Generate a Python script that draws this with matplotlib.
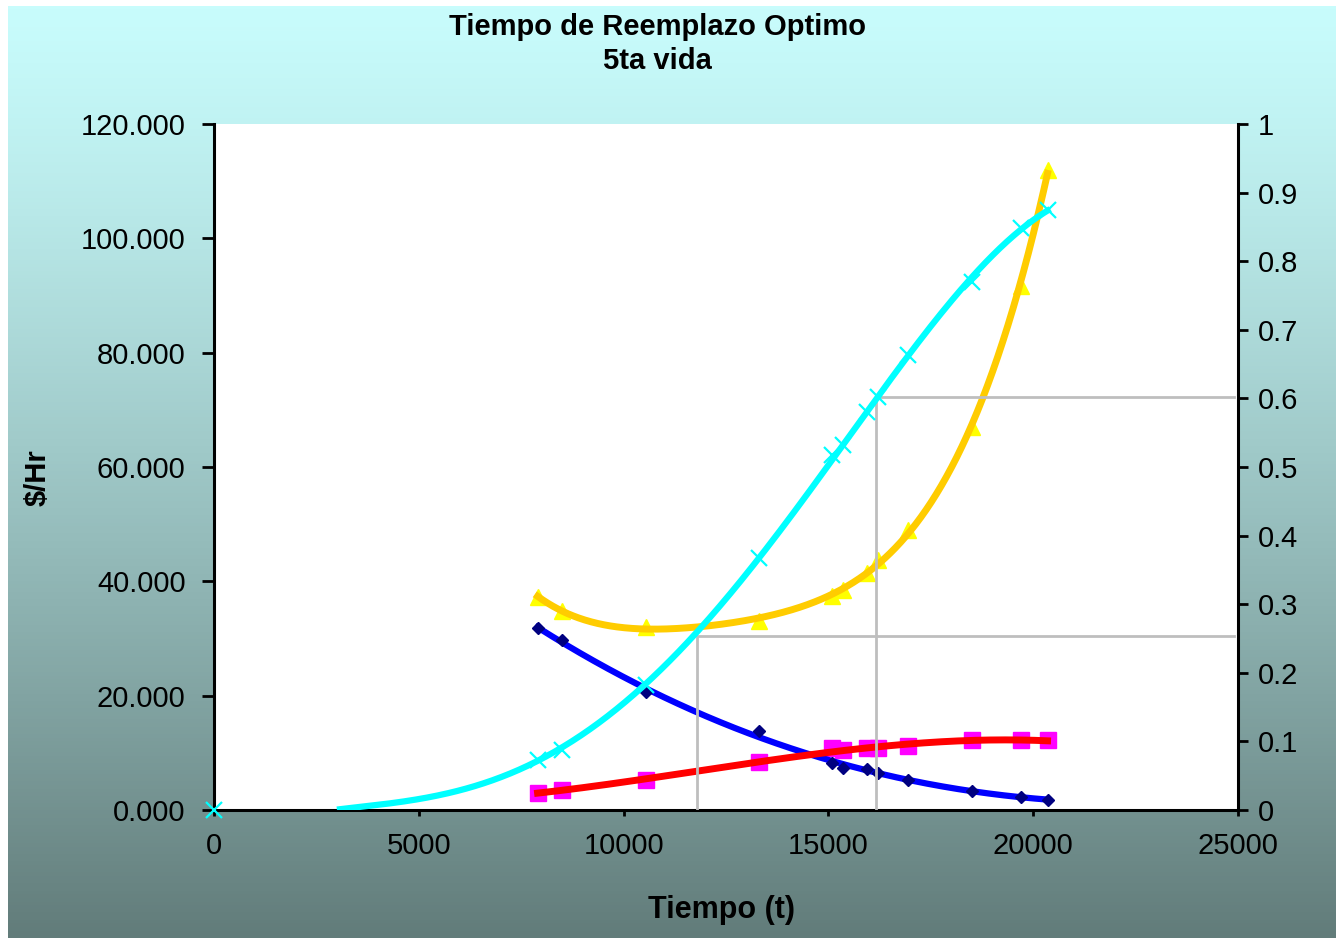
import numpy as np
import matplotlib
matplotlib.use('Agg')
import matplotlib.pyplot as plt

plt.rcParams['font.family'] = ['Liberation Sans', 'DejaVu Sans']

# datos
t = [7900, 8500, 10550, 13300, 15100, 15350, 15950, 16200, 16950, 18500, 19700, 20350]
costo_total = [37.3, 34.8, 32.0, 33.1, 37.4, 38.5, 41.5, 43.7, 49.0, 67.0, 91.7, 112.0]
costo_prev = [31.8, 29.7, 20.6, 13.8, 8.2, 7.3, 7.2, 6.5, 5.3, 3.4, 2.3, 1.75]
costo_corr = [3.0, 3.5, 5.2, 8.4, 10.8, 10.5, 10.8, 10.8, 11.2, 12.2, 12.2, 12.2]
t_F = [0] + t
F = [0, 0.073, 0.087, 0.182, 0.367, 0.517, 0.532, 0.580, 0.602, 0.663, 0.770, 0.848, 0.875]
# tramo inicial de la curva de probabilidad (antes del primer punto)
t_F_ini = [3076, 3730, 4460, 5270, 6080, 6900]
F_ini = [0.0, 0.006, 0.011, 0.019, 0.032, 0.047]

# lineas guia (tiempo, probabilidad)
t_guia = [11800, 16160]
F_guia = [0.254, 0.602]
t_fin_guia = 24900

left_ticks = [0, 20, 40, 60, 80, 100, 120]
right_ticks = [0, 0.1, 0.2, 0.3, 0.4, 0.5, 0.6, 0.7, 0.8, 0.9, 1]
x_ticks = [0, 5000, 10000, 15000, 20000, 25000]

W, H = 1336, 938
fig = plt.figure(figsize=(W / 100, H / 100), dpi=100, facecolor='white')

# fondo degradado
bg = fig.add_axes([8 / W, 0, 1 - 8 / W, 1 - 6 / H], zorder=-10)
top = np.array([200, 252, 252]) / 255.
bot = np.array([98, 124, 122]) / 255.
s = np.linspace(0, 1, 256) ** 1.25
grad = top[None, :] * (1 - s[:, None]) + bot[None, :] * s[:, None]
bg.imshow(grad[:, None, :], aspect='auto', extent=[0, 1, 0, 1])
bg.axis('off')

ax = fig.add_axes([214 / W, 1 - 810 / H, 1024 / W, 686 / H])
ax.set_facecolor('white')
ax2 = ax.twinx()


def trend(x, y, deg):
    # linea de tendencia polinomica sobre el rango de los datos
    c = np.polyfit(x, y, deg)
    xs = np.linspace(min(x), max(x), 400)
    return xs, np.polyval(c, xs)


# preventivo (azul)
xs, ys = trend(t, costo_prev, 3)
ax.plot(xs, ys, color='#0000FF', lw=4.5, zorder=3)
ax.plot(t, costo_prev, ls='', marker='D', ms=6, color='#000080', zorder=4)

# correctivo (rojo)
ax.plot(t, costo_corr, ls='', marker='s', ms=12, color='#FF00FF', zorder=2)
xs, ys = trend(t, costo_corr, 3)
ax.plot(xs, ys, color='#FF0000', lw=5, zorder=5)

# total (amarillo)
ax.plot(t, costo_total, ls='', marker='^', ms=11, color='#FFFF00', zorder=2)
xs, ys = trend(t, costo_total, 4)
ax.plot(xs, ys, color='#FFCC00', lw=5, zorder=6)

ax.set_xlim(0, 25000)
ax.set_ylim(0, 120)
ax.set_xticks(x_ticks)
ax.set_xticklabels([str(v) for v in x_ticks])
ax.set_yticks(left_ticks)
ax.set_yticklabels(['%.3f' % v for v in left_ticks])

# probabilidad (cian) en eje derecho
for tg, fg in zip(t_guia, F_guia):
    ax2.plot([tg, tg, t_fin_guia], [0, fg, fg], color='#BEBEBE', lw=2, zorder=1)
ax2.plot(t_F, F, ls='', marker='x', ms=11, mew=1.6, color='#00FFFF', zorder=2, clip_on=False)
xs, ys = trend(t_F_ini + t, F_ini + F[1:], 4)
ax2.plot(xs, ys, color='#00FFFF', lw=4.5, zorder=7)
ax2.set_ylim(0, 1)
ax2.set_yticks(right_ticks)
ax2.set_yticklabels(['%g' % v for v in right_ticks])

for a in (ax, ax2):
    a.spines['top'].set_visible(False)
    for sp in ('left', 'right', 'bottom'):
        a.spines[sp].set_linewidth(2.2)
ax.spines['right'].set_visible(False)
ax2.spines['left'].set_visible(False)
ax2.spines['bottom'].set_visible(False)

ax.tick_params(axis='y', direction='out', length=8.5, width=2, pad=12, labelsize=21)
ax.tick_params(axis='x', direction='out', length=4, width=2, pad=12, labelsize=21)
ax2.tick_params(axis='y', direction='out', length=7, width=2, pad=7, labelsize=21)

fig.text(0.492, 1 - 27 / H, 'Tiempo de Reemplazo Optimo', ha='center', va='center',
         fontsize=21, fontweight='bold')
fig.text(0.492, 1 - 61 / H, '5ta vida', ha='center', va='center',
         fontsize=21, fontweight='bold')
fig.text(38 / W, 1 - 478 / H, '$/Hr', ha='center', va='center', rotation=90,
         fontsize=21, fontweight='bold')
fig.text(722 / W, 1 - 910 / H, 'Tiempo (t)', ha='center', va='center',
         fontsize=22, fontweight='bold')

fig.savefig('out.png', dpi=100, facecolor=fig.get_facecolor())
